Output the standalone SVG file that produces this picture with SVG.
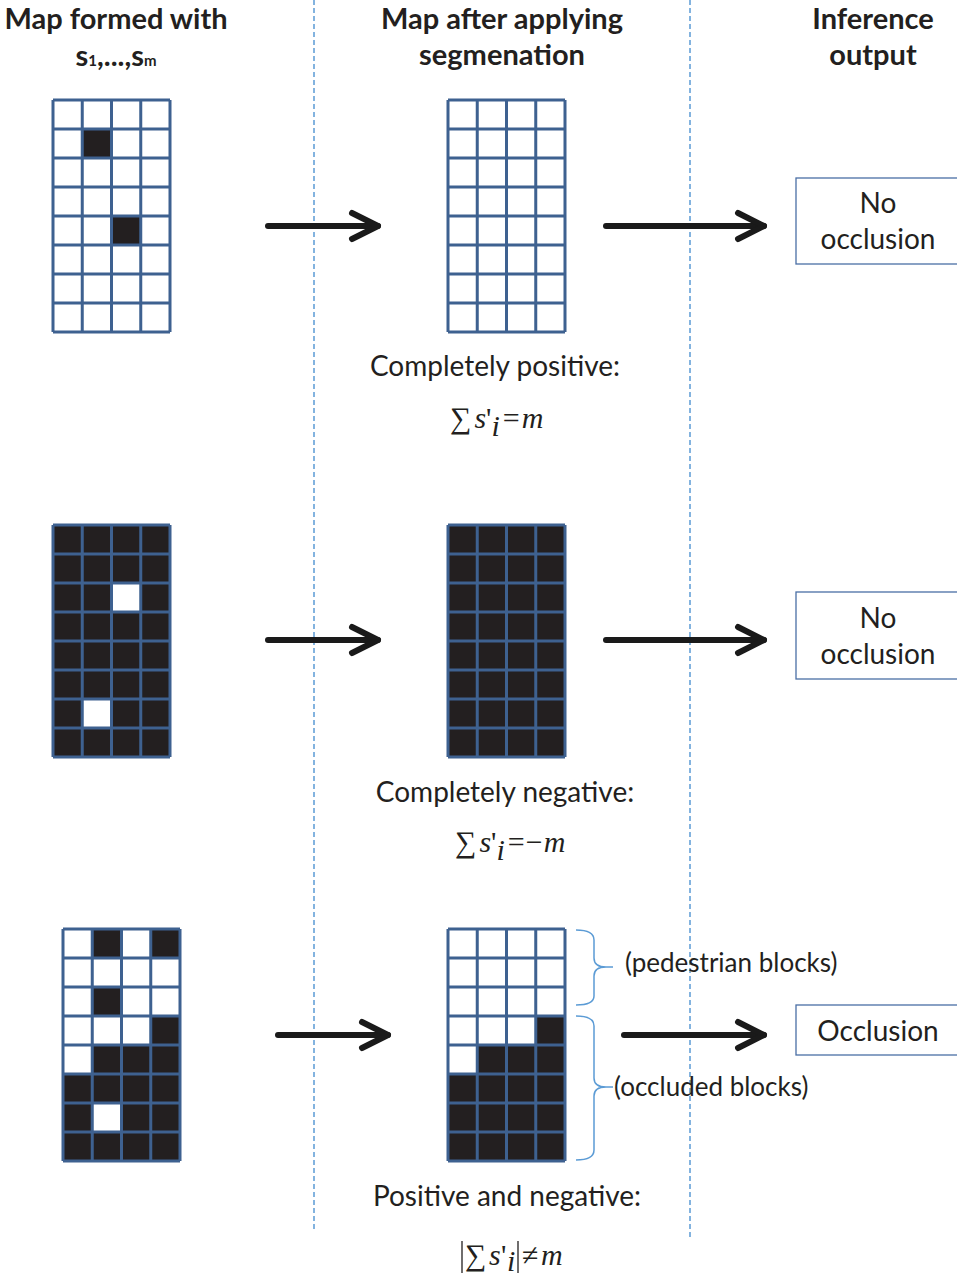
<svg xmlns="http://www.w3.org/2000/svg" xmlns:xlink="http://www.w3.org/1999/xlink" width="957" height="1276" viewBox="0 0 957 1276">
  <style>
    .hd { font-family: "Lato", "Open Sans", sans-serif; font-weight: bold; font-size: 29px; fill: #231f20; }
    .lb { font-family: "Lato", "Open Sans", sans-serif; font-size: 28px; fill: #231f20; }
    .bl { font-family: "Lato", "Open Sans", sans-serif; font-size: 26px; fill: #231f20; }
    .mt { font-family: "Liberation Serif", serif; font-size: 30px; fill: #231f20; }
    .it { font-style: italic; }
    .sep { stroke: #5b9bd5; stroke-width: 1.5; stroke-dasharray: 5 3; fill: none; }
    .grid { fill: none; stroke: #3e6190; stroke-width: 3; }
    .arrow { fill: none; stroke: #1a1a1a; stroke-width: 6; stroke-linecap: round; stroke-linejoin: round; }
    .box { fill: #fff; stroke: #4a6fa5; stroke-width: 1.3; }
    .brace { fill: none; stroke: #5b9bd5; stroke-width: 1.5; }
  </style>
  <defs>
    <rect id="cb" width="29.25" height="29" fill="#231f20"/>
    <path id="gl" class="grid" d="M0 0V232M29.25 0V232M58.5 0V232M87.75 0V232M117 0V232M0 0H117M0 29H117M0 58H117M0 87H117M0 116H117M0 145H117M0 174H117M0 203H117M0 232H117"/>
    <path id="ah" class="arrow" d="M-26 -13L0 0L-26 13"/>
  </defs>

  <rect width="957" height="1276" fill="#fff"/>

  <!-- column headers -->
  <g id="headers">
    <text class="hd" x="116" y="29" text-anchor="middle">Map formed with</text>
    <text class="hd" x="116" y="66" text-anchor="middle" font-size="20">s<tspan font-size="15">1</tspan>,...,s<tspan font-size="15">m</tspan></text>
    <text class="hd" x="502" y="29" text-anchor="middle">Map after applying</text>
    <text class="hd" x="502" y="65" text-anchor="middle">segmenation</text>
    <text class="hd" x="873" y="29" text-anchor="middle">Inference</text>
    <text class="hd" x="873" y="65" text-anchor="middle">output</text>
  </g>

  <!-- column separators -->
  <g id="separators">
    <line class="sep" x1="314" y1="0" x2="314" y2="1230"/>
    <line class="sep" x1="690" y1="0" x2="690" y2="1238"/>
  </g>

  <!-- row 1: completely positive -->
  <g id="map1-input" transform="translate(53,100)">
    <rect width="117" height="232" fill="#fff"/>
    <use xlink:href="#cb" x="29.25" y="29"/>
    <use xlink:href="#cb" x="58.5" y="116"/>
    <use xlink:href="#gl"/>
  </g>
  <g id="map1-seg" transform="translate(448,100)">
    <rect width="117" height="232" fill="#fff"/>
    <use xlink:href="#gl"/>
  </g>
  <g id="out1">
    <rect class="box" x="796" y="178" width="170" height="86"/>
    <text class="lb" x="878" y="213" text-anchor="middle">No</text>
    <text class="lb" x="878" y="249" text-anchor="middle">occlusion</text>
  </g>
  <g id="cap1">
    <text class="lb" x="495" y="376" text-anchor="middle">Completely positive:</text>
    <text class="mt" x="450" y="428">∑<tspan class="it" dx="3">s</tspan>'<tspan class="it" dy="8">i</tspan><tspan dy="-8" dx="3">=</tspan><tspan class="it" dx="2">m</tspan></text>
  </g>

  <!-- row 2: completely negative -->
  <g id="map2-input" transform="translate(53,525)">
    <rect width="117" height="232" fill="#231f20"/>
    <rect x="58.5" y="58" width="29.25" height="29" fill="#fff"/>
    <rect x="29.25" y="174" width="29.25" height="29" fill="#fff"/>
    <use xlink:href="#gl"/>
  </g>
  <g id="map2-seg" transform="translate(448,525)">
    <rect width="117" height="232" fill="#231f20"/>
    <use xlink:href="#gl"/>
  </g>
  <g id="out2">
    <rect class="box" x="796" y="592" width="170" height="87"/>
    <text class="lb" x="878" y="628" text-anchor="middle">No</text>
    <text class="lb" x="878" y="664" text-anchor="middle">occlusion</text>
  </g>
  <g id="cap2">
    <text class="lb" x="505" y="802" text-anchor="middle">Completely negative:</text>
    <text class="mt" x="455" y="852">∑<tspan class="it" dx="3">s</tspan>'<tspan class="it" dy="8">i</tspan><tspan dy="-8" dx="3">=</tspan><tspan dx="1">−</tspan><tspan class="it" dx="1">m</tspan></text>
  </g>

  <!-- row 3: positive and negative -->
  <g id="map3-input" transform="translate(63,929)">
    <rect width="117" height="232" fill="#fff"/>
    <use xlink:href="#cb" x="29.25" y="0"/>
    <use xlink:href="#cb" x="87.75" y="0"/>
    <use xlink:href="#cb" x="29.25" y="58"/>
    <use xlink:href="#cb" x="87.75" y="87"/>
    <use xlink:href="#cb" x="29.25" y="116"/>
    <use xlink:href="#cb" x="58.5" y="116"/>
    <use xlink:href="#cb" x="87.75" y="116"/>
    <rect y="145" width="117" height="87" fill="#231f20"/>
    <rect x="29.25" y="174" width="29.25" height="29" fill="#fff"/>
    <use xlink:href="#gl"/>
  </g>
  <g id="map3-seg" transform="translate(448,929)">
    <rect width="117" height="232" fill="#fff"/>
    <use xlink:href="#cb" x="87.75" y="87"/>
    <use xlink:href="#cb" x="29.25" y="116"/>
    <use xlink:href="#cb" x="58.5" y="116"/>
    <use xlink:href="#cb" x="87.75" y="116"/>
    <rect y="145" width="117" height="87" fill="#231f20"/>
    <use xlink:href="#gl"/>
  </g>
  <g id="braces">
    <path class="brace" d="M576 930Q594 930 594 940V958Q594 967 606 967H613M606 967Q594 967 594 976V996Q594 1005 576 1005"/>
    <path class="brace" d="M576 1016Q594 1016 594 1026V1078Q594 1087 606 1087H613M606 1087Q594 1087 594 1096V1150Q594 1160 576 1160"/>
    <text class="bl" x="625" y="972">(pedestrian blocks)</text>
    <text class="bl" x="614" y="1096">(occluded blocks)</text>
  </g>
  <g id="out3">
    <rect class="box" x="796" y="1005" width="170" height="50"/>
    <text class="lb" x="878" y="1041" text-anchor="middle">Occlusion</text>
  </g>
  <g id="cap3">
    <text class="lb" x="507" y="1206" text-anchor="middle">Positive and negative:</text>
    <line x1="462" y1="1241" x2="462" y2="1273" stroke="#231f20" stroke-width="1.3"/>
    <line x1="518" y1="1241" x2="518" y2="1273" stroke="#231f20" stroke-width="1.3"/>
    <text class="mt" y="1265"><tspan x="465">∑</tspan><tspan class="it" x="489">s</tspan><tspan x="501">'</tspan><tspan class="it" x="507" dy="6">i</tspan><tspan x="522" dy="-6">≠</tspan><tspan class="it" x="541">m</tspan></text>
  </g>

  <!-- connectors -->
  <g id="connectors">
    <line class="arrow" x1="268" y1="226" x2="378" y2="226"/>
    <use xlink:href="#ah" transform="translate(378,226)"/>
    <line class="arrow" x1="606" y1="226" x2="764" y2="226"/>
    <use xlink:href="#ah" transform="translate(764,226)"/>
    <line class="arrow" x1="268" y1="640" x2="378" y2="640"/>
    <use xlink:href="#ah" transform="translate(378,640)"/>
    <line class="arrow" x1="606" y1="640" x2="764" y2="640"/>
    <use xlink:href="#ah" transform="translate(764,640)"/>
    <line class="arrow" x1="278" y1="1035" x2="388" y2="1035"/>
    <use xlink:href="#ah" transform="translate(388,1035)"/>
    <line class="arrow" x1="624" y1="1035" x2="764" y2="1035"/>
    <use xlink:href="#ah" transform="translate(764,1035)"/>
  </g>
</svg>
